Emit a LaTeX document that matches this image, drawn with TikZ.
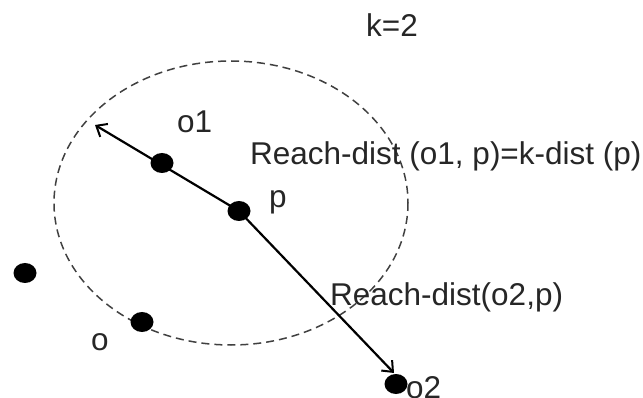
\documentclass[tikz,border=0pt]{standalone}
\usepackage{fontspec}
\setmainfont{Liberation Sans}
\usetikzlibrary{arrows.meta,shapes.geometric}
\begin{document}
\begin{tikzpicture}[x=1pt,y=-1pt,
  dot/.style={ellipse, fill=black, minimum width=23pt, minimum height=20pt, inner sep=0pt},
  lbl/.style={font=\fontsize{31.5}{34}\selectfont, text=black!85, inner sep=0pt},
  conn/.style={line width=2.2pt, -{Straight Barb[length=9pt,width=15pt,line width=2pt]}},
  ring/.style={dashed, dash pattern=on 8pt off 5pt, line width=1.5pt, draw=black!75}]
\useasboundingbox (0,0) rectangle (643,398);
\draw[ring] (231,203) ellipse [x radius=177, y radius=142];
\coordinate (t1) at (95,125);
\coordinate (t2) at (394,373);
\node[dot] (o1) at (162,163) {};
\node[dot] (p) at (239,211) {};
\node[dot] (q) at (25,273) {};
\node[dot] (o) at (142,322) {};
\node[dot] (o2) at (396,384) {};
\draw[conn] (p.center) -- (t1);
\draw[conn] (p.center) -- (t2);
\node[lbl, anchor=west] (k) at (366,25) {k=2};
\node[lbl, anchor=west] (lo1) at (177,122) {o1};
\node[lbl, anchor=west] (lp) at (269,202) {p};
\node[lbl, anchor=west] (r1) at (250,156) {Reach-dist (o1, p)=k-dist (p)};
\node[lbl, anchor=west] (r2) at (330,297) {Reach-dist(o2,p)};
\node[lbl, anchor=west] (lo) at (91,342) {o};
\node[lbl, anchor=west] (lo2) at (406,388) {o2};
\end{tikzpicture}
\end{document}
